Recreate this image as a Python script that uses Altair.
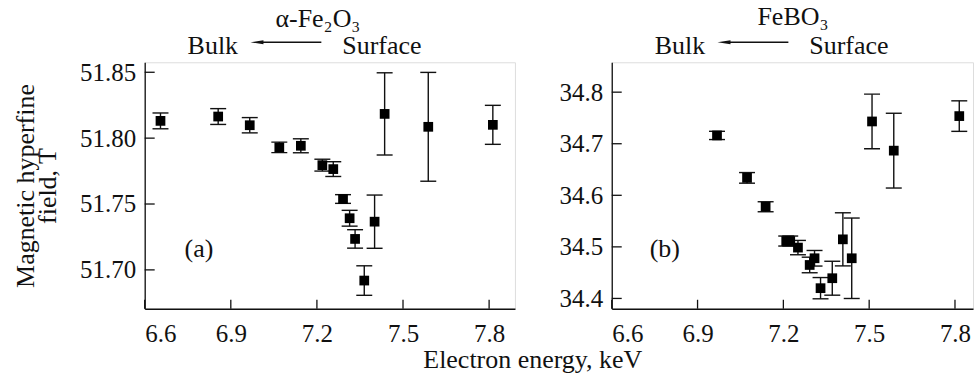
import altair as alt
import pandas as pd

FONT = "Liberation Serif"
INK = "#111111"

# ---- data ----
x_ticks = [6.6, 6.9, 7.2, 7.5, 7.8]

a_energy = [6.655, 6.856, 6.966, 7.069, 7.144, 7.219, 7.257, 7.291, 7.314, 7.333, 7.365, 7.401, 7.436, 7.588, 7.813]
a_field = [51.8131, 51.8164, 51.8098, 51.7930, 51.7942, 51.7795, 51.7765, 51.7538, 51.7392, 51.7235, 51.6919, 51.7366, 51.8184, 51.8086, 51.8101]
a_err = [0.0060, 0.0060, 0.0058, 0.0040, 0.0053, 0.0045, 0.0056, 0.0033, 0.0060, 0.0070, 0.0112, 0.0202, 0.0312, 0.0413, 0.0148]
a_y_ticks = [51.70, 51.75, 51.80, 51.85]

b_energy = [6.968, 7.073, 7.138, 7.210, 7.224, 7.251, 7.292, 7.309, 7.330, 7.371, 7.408, 7.439, 7.510, 7.586, 7.815]
b_field = [34.7161, 34.6338, 34.5778, 34.5113, 34.5113, 34.4986, 34.4649, 34.4779, 34.4199, 34.4392, 34.5146, 34.4779, 34.7432, 34.6866, 34.7536]
b_err = [0.0080, 0.0103, 0.0097, 0.0097, 0.0097, 0.0139, 0.0151, 0.0151, 0.0206, 0.0329, 0.0515, 0.0780, 0.0530, 0.0725, 0.0296]
b_y_ticks = [34.4, 34.5, 34.6, 34.7, 34.8]


def text_mark(s, x, y, size=26):
    return alt.Chart(pd.DataFrame({"s": [s]})).mark_text(
        font=FONT, fontSize=size, color=INK, align="left", baseline="alphabetic"
    ).encode(text="s:N", x=alt.value(x), y=alt.value(y))


def arrow(x_tip, x_end, y):
    line = alt.Chart(pd.DataFrame({"k": [0]})).mark_rule(color=INK, strokeWidth=1.4).encode(
        x=alt.value(x_tip + 8), x2=alt.value(x_end), y=alt.value(y)
    )
    head = alt.Chart(pd.DataFrame({"k": [0]})).mark_point(
        shape="M-1,0L1,-0.32L1,0.32Z", size=169, filled=True, color=INK, opacity=1, strokeWidth=0
    ).encode(x=alt.value(x_tip + 6.5), y=alt.value(y))
    return line + head


def panel(energy, field, err, xdom, ydom, yticks, yfmt, width, height, ytitle,
          compound, comp_x, comp_y, label, label_x):
    df = pd.DataFrame({
        "e": energy,
        "f": field,
        "lo": [v - d for v, d in zip(field, err)],
        "hi": [v + d for v, d in zip(field, err)],
    })

    xaxis = alt.Axis(values=x_ticks, format=".1f", ticks=False, tickSize=0, grid=False,
                     labelPadding=13, labelFont=FONT, labelFontSize=25, labelColor=INK,
                     domainColor=INK, domainWidth=1.3, title=None)
    yaxis = alt.Axis(values=yticks, format=yfmt, ticks=False, tickSize=0, grid=False,
                     labelPadding=9, labelFont=FONT, labelFontSize=25, labelColor=INK,
                     domainColor=INK, domainWidth=1.3, title=ytitle,
                     titleFont=FONT, titleFontSize=26, titleFontWeight="normal",
                     titleColor=INK, titleLineHeight=22, titlePadding=19)
    xs = alt.Scale(domain=xdom, nice=False, zero=False)
    ys = alt.Scale(domain=ydom, nice=False, zero=False)

    def X(f):
        return alt.X(f"{f}:Q", scale=xs, axis=xaxis)

    def Y(f):
        return alt.Y(f"{f}:Q", scale=ys, axis=yaxis)

    base = alt.Chart(df)
    bars = base.mark_rule(color=INK, strokeWidth=1.4).encode(x=X("e"), y=Y("lo"), y2="hi:Q")
    caps = base.transform_fold(["lo", "hi"], as_=["which", "v"]).mark_tick(
        orient="horizontal", size=16, thickness=1.4, color=INK, opacity=1
    ).encode(x=X("e"), y=Y("v"))
    pts = base.mark_square(size=95, color="black", opacity=1, strokeWidth=0).encode(x=X("e"), y=Y("f"))

    yt = alt.Chart(pd.DataFrame({"t": yticks})).mark_rule(color=INK, strokeWidth=1.3).encode(
        y=Y("t"), x=alt.value(0), x2=alt.value(10)
    )
    xt = alt.Chart(pd.DataFrame({"t": x_ticks})).mark_rule(color=INK, strokeWidth=1.3).encode(
        x=X("t"), y=alt.value(height), y2=alt.value(height - 9)
    )

    ann = (
        text_mark(compound, comp_x, comp_y)
        + text_mark("Bulk", 43, -8)
        + text_mark("Surface", 198, -8)
        + arrow(106, 177, -20)
        + text_mark(label, label_x, 195)
    )

    return alt.layer(xt, yt, bars, caps, pts, ann).properties(width=width, height=height)


left = panel(a_energy, a_field, a_err, [6.6, 7.89], [51.6705, 51.8576], a_y_ticks, ".2f",
             371, 247, ["Magnetic hyperfine", "field, T"], "α-Fe₂O₃", 131, -35, "(a)", 40)
right = panel(b_energy, b_field, b_err, [6.6, 7.863], [34.38, 34.858], b_y_ticks, ".1f",
              362, 247, None, "FeBO₃", 146, -37, "(b)", 38)

chart = alt.hconcat(left, right, spacing=42).properties(
    padding={"left": 12, "top": 3, "right": 0, "bottom": 0},
    title=alt.TitleParams(
        text="Electron energy, keV", orient="bottom", anchor="middle",
        font=FONT, fontSize=26, fontWeight="normal", color=INK, offset=0, dx=40
    ),
).configure_view(stroke=None).configure(background="white")

chart.save("out.html", embed_options={"renderer": "svg", "actions": False})
